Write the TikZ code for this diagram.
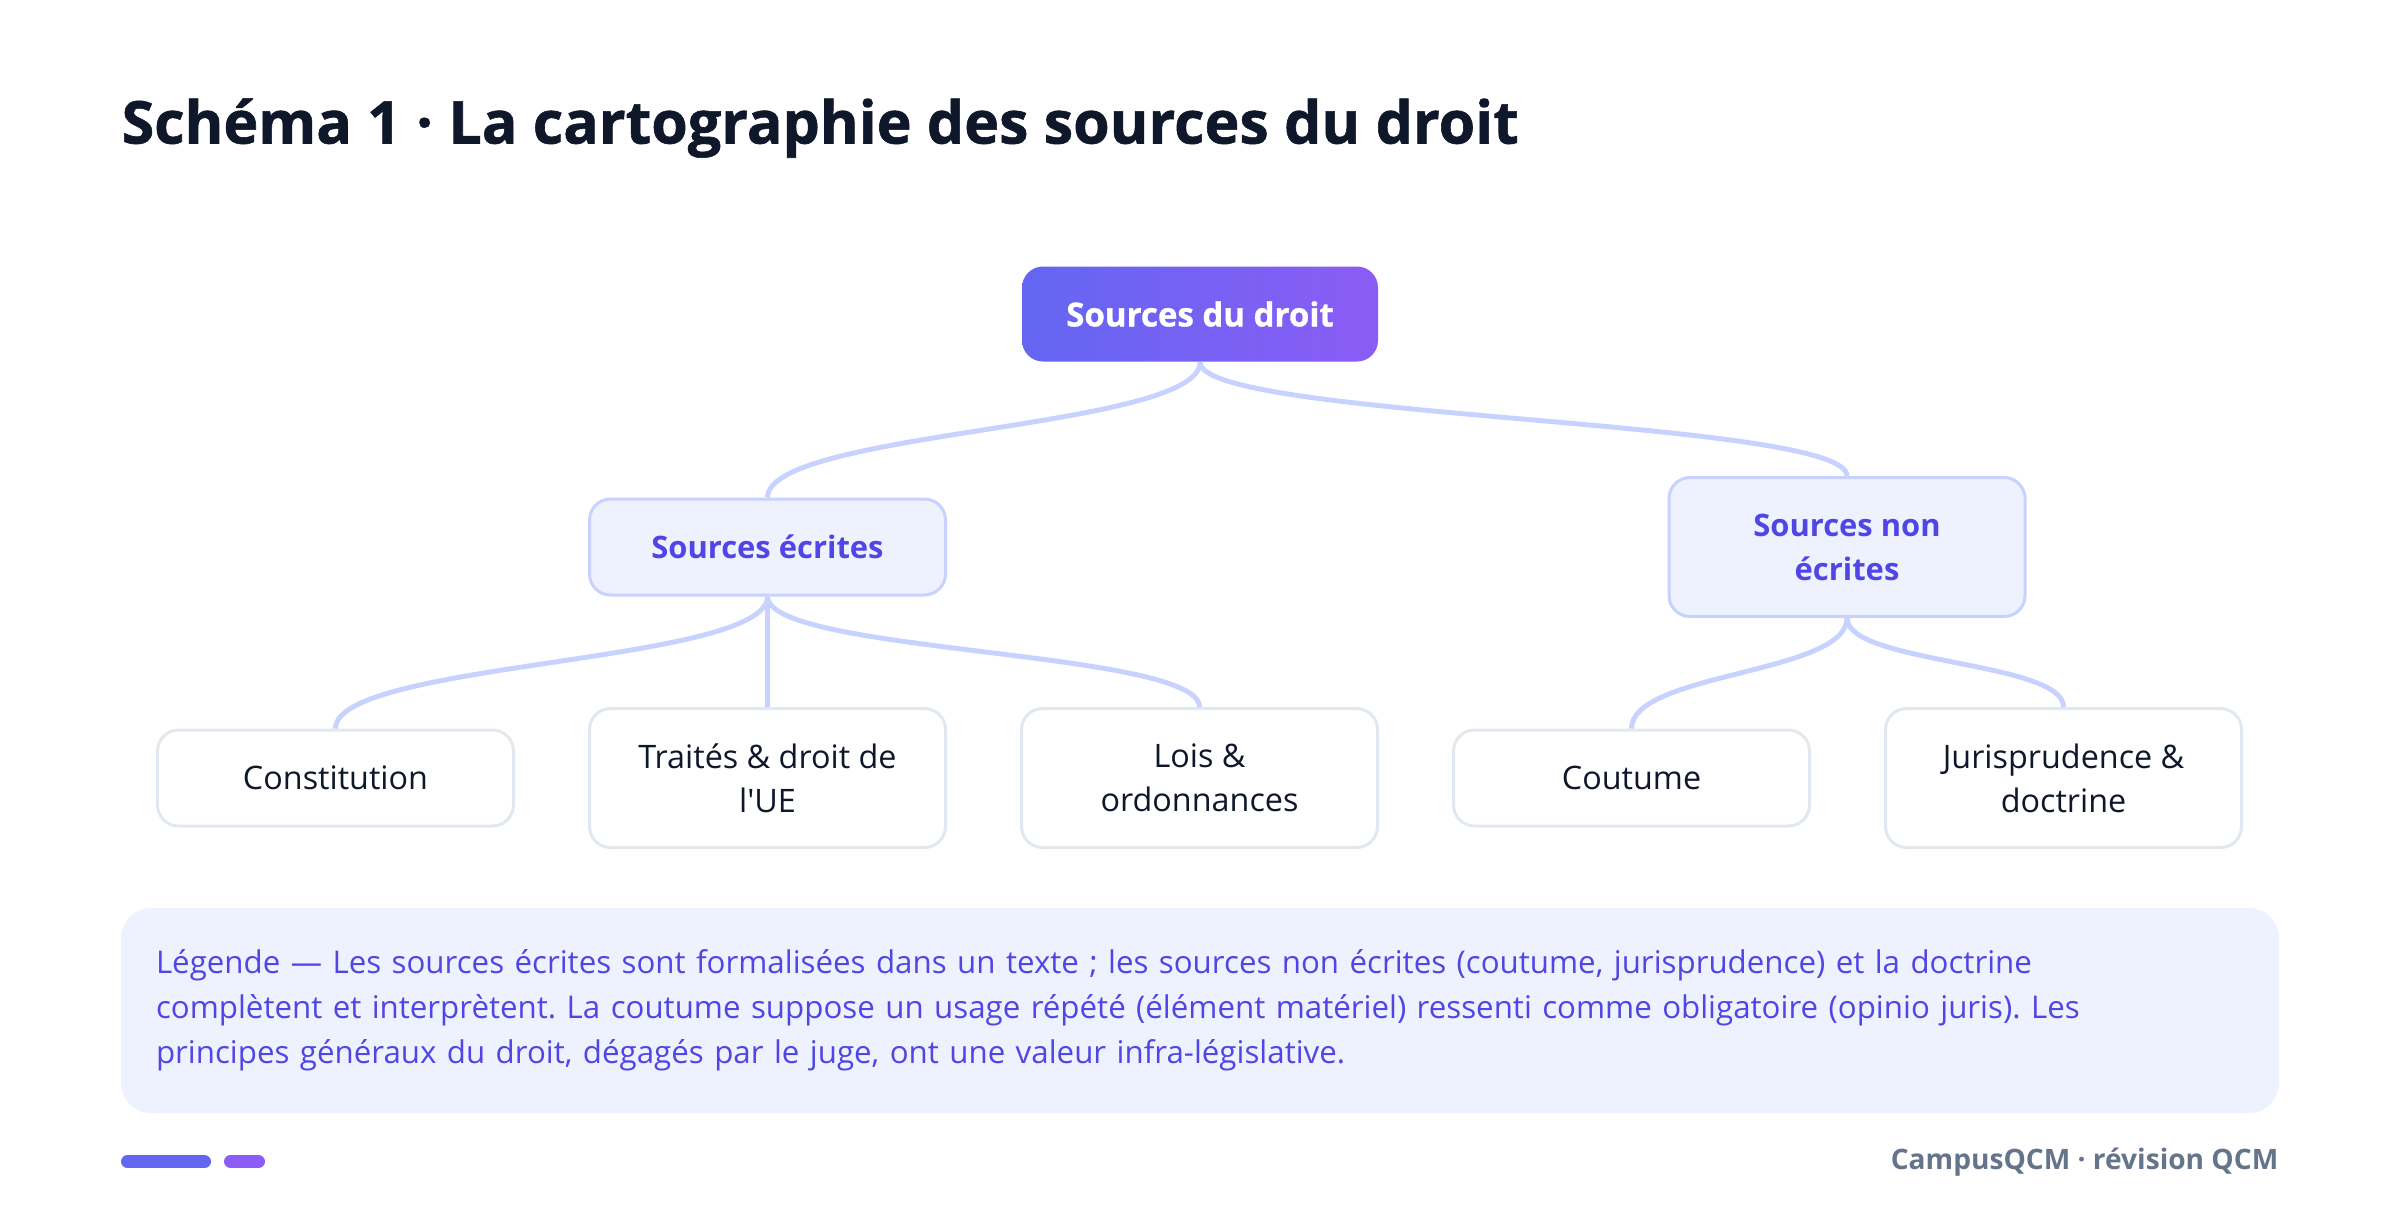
\documentclass[tikz,border=0pt]{standalone}
\usepackage{fontspec}
\setmainfont{Open Sans}
\usetikzlibrary{positioning,shapes}
\frenchspacing

\definecolor{inkA}{HTML}{0F172A}
\definecolor{indigoA}{HTML}{6366F1}
\definecolor{violetA}{HTML}{8B5CF6}
\definecolor{paleA}{HTML}{EEF2FF}
\definecolor{lineA}{HTML}{C7D2FE}
\definecolor{textA}{HTML}{4F46E5}
\definecolor{greyA}{HTML}{E2E8F0}
\definecolor{slateA}{HTML}{64748B}

\tikzset{
  rootbox/.style={rounded corners=0.21cm, left color=indigoA, right color=violetA,
    text=white, minimum width=3.56cm, minimum height=0.95cm,
    font=\fontsize{9.4pt}{12.5pt}\selectfont\bfseries\addfontfeature{FakeBold=1}},
  midbox/.style={draw=lineA, line width=0.85pt, fill=paleA, rounded corners=0.21cm,
    text=textA, minimum width=3.56cm, minimum height=0.96cm, align=center,
    font=\fontsize{8.8pt}{12.5pt}\selectfont\bfseries},
  leafbox/.style={draw=greyA, line width=0.85pt, fill=white, rounded corners=0.21cm,
    text=inkA, minimum width=3.56cm, minimum height=0.96cm, align=center,
    font=\fontsize{9.2pt}{12.5pt}\selectfont},
  tall/.style={minimum height=1.39cm},
  swoop/.style={to path={.. controls +(0,-#1) and +(0,#1) .. (\tikztotarget)}},
}

\begin{document}
\begin{tikzpicture}[node distance=4.32cm,on grid]
   \useasboundingbox (0,0) rectangle (24,-12.23);
   % title
   \node[anchor=west,text=inkA,inner sep=0pt,
         font=\fontsize{16.8pt}{20pt}\selectfont\bfseries\addfontfeature{FakeBold=1}]
         (title) at (1.21,-1.28) {Schéma 1 · La cartographie des sources du droit};
   % tree
   \node[rootbox]        (sources)      at (12,-3.14) {Sources du droit};
   \node[midbox]         (ecrites)      [below left=2.33cm and 4.325cm of sources] {Sources écrites};
   \node[midbox,tall]    (nonecrites)   [below right=2.33cm and 6.47cm of sources] {Sources non\\écrites};
   \node[leafbox,tall]   (traites)      [below=2.31cm of ecrites] {Traités \& droit de\\l\textquotesingle UE};
   \node[leafbox]        (constitution) [left=of traites] {Constitution};
   \node[leafbox,tall]   (lois)         [right=of traites] {Lois \&\\ordonnances};
   \node[leafbox]        (coutume)      [right=of lois] {Coutume};
   \node[leafbox,tall]   (juris)        [right=of coutume] {Jurisprudence \&\\doctrine};
    \path[draw=lineA,line width=1.4pt]
    (sources.south)    edge[swoop=0.67] (ecrites.north)
                       edge[swoop=0.57] (nonecrites.north)
    (ecrites.south)    edge[swoop=0.67] (constitution.north)
                       edge             (traites.north)
                       edge[swoop=0.57] (lois.north)
    (nonecrites.south) edge[swoop=0.56] (coutume.north)
                       edge[swoop=0.46] (juris.north);
   % legend
   \node[fill=paleA,rounded corners=0.3cm,minimum width=21.58cm,minimum height=2.05cm,
         text width=20.88cm,align=left,text=textA,inner sep=0pt,
         font=\fontsize{8.9pt}{12.8pt}\selectfont]
         (legend) at (12,-10.105)
         {Légende — Les sources écrites sont formalisées dans un texte ; les sources non écrites (coutume, jurisprudence) et la doctrine\\
          complètent et interprètent. La coutume suppose un usage répété (élément matériel) ressenti comme obligatoire (opinio juris). Les\\
          principes généraux du droit, dégagés par le juge, ont une valeur infra-législative.\\[3pt]};
   % footer
   \draw[indigoA,line width=0.13cm,line cap=round] (1.275,-11.615) -- (2.045,-11.615);
   \draw[violetA,line width=0.13cm,line cap=round] (2.305,-11.615) -- (2.585,-11.615);
   \node[anchor=east,inner sep=0pt,text=slateA,font=\fontsize{8.0pt}{10pt}\selectfont\bfseries]
         (footer) at (22.79,-11.62) {CampusQCM · révision QCM};
\end{tikzpicture}
\end{document}
